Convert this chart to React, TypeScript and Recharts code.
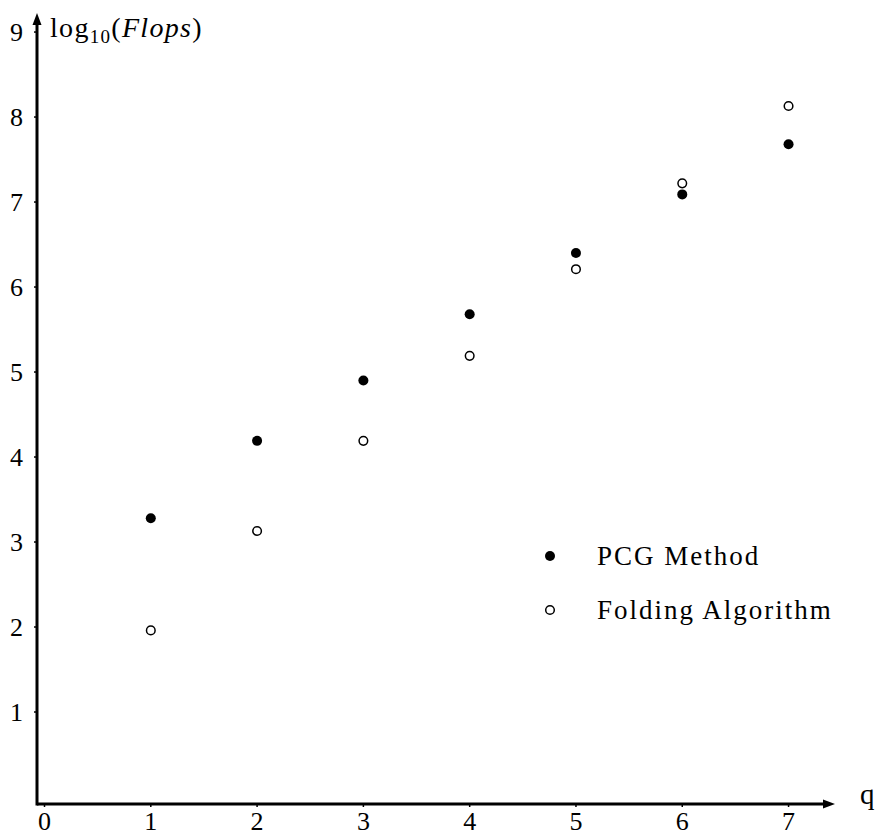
import React from "react";
import { ScatterChart, Scatter, XAxis, YAxis, ReferenceLine, Legend } from "recharts";

const qValues = [1, 2, 3, 4, 5, 6, 7];
const pcgValues = [3.28, 4.19, 4.9, 5.68, 6.4, 7.09, 7.68];
const foldingValues = [1.96, 3.13, 4.19, 5.19, 6.21, 7.22, 8.13];
const xTicks = [0, 1, 2, 3, 4, 5, 6, 7];
const yTicks = [1, 2, 3, 4, 5, 6, 7, 8, 9];

const pcgData = qValues.map((q, i) => ({ q, v: pcgValues[i] }));
const foldingData = qValues.map((q, i) => ({ q, v: foldingValues[i] }));

const X_MIN = -0.0706;
const X_MAX = 7.437;
const Y_MIN = -0.0824;
const Y_MAX = 9.224;

const FONT = "'Liberation Serif', 'Times New Roman', serif";

const FilledDot = (props: any) => <circle cx={props.cx} cy={props.cy} r={5} fill="#000" />;
const OpenDot = (props: any) => (
  <circle cx={props.cx} cy={props.cy} r={4.3} fill="#fff" stroke="#000" strokeWidth={1.5} />
);

const XArrow = (props: any) => {
  const { x1, y1, x2, y2 } = props;
  return (
    <g>
      <line x1={x1} y1={y1} x2={x2 - 8} y2={y2} stroke="#000" strokeWidth={3} />
      <polygon points={`${x2},${y2} ${x2 - 12},${y2 - 4.5} ${x2 - 12},${y2 + 4.5}`} fill="#000" />
    </g>
  );
};

const YArrow = (props: any) => {
  const { x1, y1, x2, y2 } = props;
  const bottom = Math.max(y1, y2) + 1.5;
  const top = Math.min(y1, y2);
  return (
    <g>
      <line x1={x1} y1={bottom} x2={x2} y2={top + 8} stroke="#000" strokeWidth={3} />
      <polygon points={`${x2},${top} ${x2 - 4.5},${top + 12} ${x2 + 4.5},${top + 12}`} fill="#000" />
    </g>
  );
};

const YLabel = (props: any) => {
  const vb = props.viewBox || {};
  const x = vb.x + vb.width + 13;
  return (
    <text x={x} y={37} fontFamily={FONT} fontSize={28} letterSpacing={1.3} fill="#000">
      <tspan>log</tspan>
      <tspan fontSize={19} dy={6}>10</tspan>
      <tspan dy={-6}>(</tspan>
      <tspan fontStyle="italic">Flops</tspan>
      <tspan>)</tspan>
    </text>
  );
};

const XLabel = (props: any) => {
  const vb = props.viewBox || {};
  return (
    <text x={vb.x + vb.width + 25} y={804} fontFamily={FONT} fontSize={29} fill="#000">
      q
    </text>
  );
};

const LegendBox = () => (
  <svg width={330} height={110} style={{ display: "block" }}>
    <circle cx={20} cy={36} r={5} fill="#000" />
    <text x={67} y={45} fontFamily={FONT} fontSize={27} letterSpacing={2} fill="#000">
      PCG Method
    </text>
    <circle cx={20} cy={90} r={4.3} fill="#fff" stroke="#000" strokeWidth={1.5} />
    <text x={67} y={99} fontFamily={FONT} fontSize={27} letterSpacing={2} fill="#000">
      Folding Algorithm
    </text>
  </svg>
);

export default function App() {
  return (
    <div style={{ position: "absolute", left: 0, top: 0, width: 877, height: 840, background: "#fff" }}>
      <ScatterChart width={877} height={840} margin={{ top: 13, right: 42, bottom: 0, left: 0 }}>
        <XAxis
          type="number"
          dataKey="q"
          domain={[X_MIN, X_MAX]}
          allowDataOverflow
          ticks={xTicks}
          axisLine={false}
          tickLine={{ stroke: "#000", strokeWidth: 1.5 }}
          tickSize={3}
          tickMargin={5}
          height={36}
          tick={{ fill: "#000", fontSize: 26, fontFamily: FONT }}
          label={<XLabel />}
        />
        <YAxis
          type="number"
          dataKey="v"
          domain={[Y_MIN, Y_MAX]}
          allowDataOverflow
          ticks={yTicks}
          axisLine={false}
          tickLine={{ stroke: "#000", strokeWidth: 1.5 }}
          tickSize={3}
          tickMargin={11}
          width={37}
          tick={{ fill: "#000", fontSize: 26, fontFamily: FONT }}
          label={<YLabel />}
        />
        <ReferenceLine
          segment={[{ x: X_MIN, y: Y_MIN }, { x: X_MAX, y: Y_MIN }]}
          ifOverflow="visible"
          shape={<XArrow />}
        />
        <ReferenceLine
          segment={[{ x: X_MIN, y: Y_MIN }, { x: X_MIN, y: Y_MAX }]}
          ifOverflow="visible"
          shape={<YArrow />}
        />
        <Scatter name="PCG Method" data={pcgData} shape={<FilledDot />} isAnimationActive={false} />
        <Scatter name="Folding Algorithm" data={foldingData} shape={<OpenDot />} isAnimationActive={false} />
        <Legend
          layout="horizontal"
          verticalAlign="middle"
          content={<LegendBox />}
          wrapperStyle={{ position: "absolute", left: 530, top: 520, width: 330, height: 110 }}
        />
      </ScatterChart>
    </div>
  );
}
